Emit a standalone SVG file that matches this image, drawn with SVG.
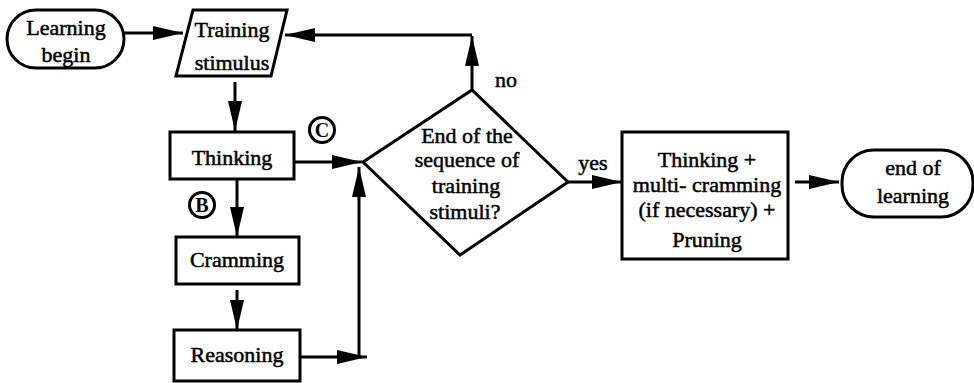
<svg xmlns="http://www.w3.org/2000/svg" width="974" height="383" viewBox="0 0 974 383">
<defs>
<style>
.s{fill:#fff;stroke:#000;stroke-width:3}
.t{font-family:"Liberation Serif","Times New Roman",serif;font-size:22px;fill:#000;stroke:#000;stroke-width:0.5;text-anchor:middle}
.c{fill:none;stroke:#000;stroke-width:3}
.l{font-family:"Liberation Serif","Times New Roman",serif;font-size:20px;font-weight:bold;fill:#000;text-anchor:middle}
</style>
<marker id="ah" viewBox="0 0 30 14" refX="30" refY="7" markerWidth="30" markerHeight="14" markerUnits="userSpaceOnUse" orient="auto">
<path d="M0,0 L30,7 L0,14 z" fill="#000"/>
</marker>
</defs>
<rect width="974" height="383" fill="#fff"/>
<g id="connectors">
<path class="c" d="M124,33 L183,33" marker-end="url(#ah)"/>
<path class="c" d="M472,90 L472,36" marker-end="url(#ah)"/>
<path class="c" d="M472,35 L285,35" marker-end="url(#ah)"/>
<path class="c" d="M235,82 L235,131" marker-end="url(#ah)"/>
<path class="c" d="M294,162 L362,162" marker-end="url(#ah)"/>
<path class="c" d="M237,179 L237,237" marker-end="url(#ah)"/>
<path class="c" d="M237,290 L237,330" marker-end="url(#ah)"/>
<path class="c" d="M300,357 L367,357" marker-end="url(#ah)"/>
<path class="c" d="M359,358 L359,167" marker-end="url(#ah)"/>
<path class="c" d="M568,182 L622,182" marker-end="url(#ah)"/>
<path class="c" d="M795,182 L839,182" marker-end="url(#ah)"/>
</g>
<g id="learning-begin">
<rect class="s" x="7" y="10" width="117" height="58" rx="29"/>
<text class="t" x="66" y="35">Learning</text>
<text class="t" x="66" y="62">begin</text>
</g>
<g id="training-stimulus">
<polygon class="s" points="193,10 287,10 271,76 176,76"/>
<text class="t" x="232" y="37">Training</text>
<text class="t" x="232" y="70">stimulus</text>
</g>
<g id="thinking">
<rect class="s" x="170" y="132" width="124" height="47"/>
<text class="t" x="232" y="165">Thinking</text>
</g>
<g id="label-c">
<circle class="s" cx="322" cy="130" r="12.5"/>
<text class="l" x="322" y="137">C</text>
</g>
<g id="label-b">
<circle class="s" cx="202" cy="205" r="12.5"/>
<text class="l" x="202" y="212">B</text>
</g>
<g id="cramming">
<rect class="s" x="176" y="237" width="123" height="47"/>
<text class="t" x="237" y="267">Cramming</text>
</g>
<g id="reasoning">
<rect class="s" x="174" y="330" width="126" height="51"/>
<text class="t" x="237" y="362">Reasoning</text>
</g>
<g id="decision">
<polygon class="s" points="363,162 472,90 568,182 460,255"/>
<text class="t" x="467" y="143">End of the</text>
<text class="t" x="467" y="167">sequence of</text>
<text class="t" x="466" y="193">training</text>
<text class="t" x="465" y="219">stimuli?</text>
<text class="t" x="506" y="87">no</text>
<text class="t" x="593" y="170">yes</text>
</g>
<g id="final-process">
<rect class="s" x="622" y="132" width="166" height="127"/>
<text class="t" x="707" y="167">Thinking +</text>
<text class="t" x="707" y="192">multi- cramming</text>
<text class="t" x="707" y="217">(if necessary) +</text>
<text class="t" x="707" y="247">Pruning</text>
</g>
<g id="end-of-learning">
<rect class="s" x="842" y="150" width="131" height="67" rx="32"/>
<text class="t" x="913" y="175">end of</text>
<text class="t" x="913" y="203">learning</text>
</g>
</svg>
